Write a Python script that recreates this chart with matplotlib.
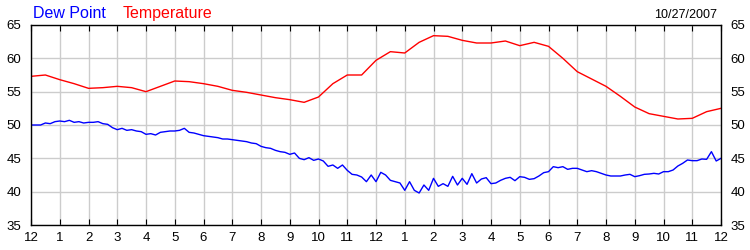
import numpy as np
import matplotlib
matplotlib.use("Agg")
import matplotlib.pyplot as plt

plt.rcParams['font.family'] = ['Liberation Sans', 'DejaVu Sans']

# temperatura cada 30 min (hora 0 = medianoche)
temp_hours = np.arange(0, 24.01, 0.5)
temperature = [57.3, 57.5, 56.8, 56.2, 55.5, 55.6, 55.8, 55.6, 55.0, 55.8,
               56.6, 56.5, 56.2, 55.8, 55.2, 54.9, 54.5, 54.1, 53.8, 53.4,
               54.2, 56.2, 57.5, 57.5, 59.7, 61.0, 60.8, 62.4, 63.4, 63.3,
               62.7, 62.3, 62.3, 62.6, 61.9, 62.4, 61.8, 60.0, 58.0, 56.9,
               55.8, 54.3, 52.7, 51.7, 51.3, 50.9, 51.0, 52.0, 52.5]

# punto de rocio cada 10 min
dew_hours = np.arange(145) / 6.0
dew_point = [50.0, 50.0, 50.0, 50.3, 50.2, 50.5,
             50.6, 50.5, 50.7, 50.4, 50.5, 50.3,
             50.4, 50.4, 50.5, 50.2, 50.1, 49.6,
             49.3, 49.5, 49.2, 49.3, 49.1, 49.0,
             48.6, 48.7, 48.5, 48.9, 49.0, 49.1,
             49.1, 49.2, 49.5, 48.9, 48.8, 48.6,
             48.4, 48.3, 48.2, 48.1, 47.9, 47.9,
             47.8, 47.7, 47.6, 47.5, 47.3, 47.2,
             46.8, 46.6, 46.5, 46.2, 46.0, 45.9,
             45.6, 45.8, 45.0, 44.8, 45.1, 44.7,
             44.9, 44.6, 43.8, 44.0, 43.5, 44.0,
             43.2, 42.6, 42.5, 42.2, 41.5, 42.5,
             41.5, 42.9, 42.5, 41.7, 41.5, 41.3,
             40.2, 41.5, 40.2, 39.8, 41.0, 40.2,
             42.0, 40.8, 41.2, 40.8, 42.3, 41.0,
             42.0, 41.1, 42.7, 41.3, 41.9, 42.1,
             41.2, 41.3, 41.7, 42.0, 42.15, 41.65,
             42.25, 42.15, 41.85, 41.95, 42.35, 42.85,
             43.0, 43.75, 43.6, 43.75, 43.35, 43.5,
             43.5, 43.25, 43.0, 43.15, 43.0, 42.75,
             42.5, 42.35, 42.35, 42.35, 42.5, 42.6,
             42.25, 42.4, 42.6, 42.65, 42.75, 42.65,
             43.0, 43.0, 43.25, 43.85, 44.25, 44.75,
             44.65, 44.65, 44.9, 44.85, 46.0, 44.6,
             45.0]

hour_labels = ['12'] + [str(i) for i in range(1, 12)] + ['12'] + [str(i) for i in range(1, 12)] + ['12']
y_ticks = [35, 40, 45, 50, 55, 60, 65]

fig = plt.figure(figsize=(7.5, 2.5), dpi=100)
ax = fig.add_axes([31 / 750, 0.1, 690 / 750, 0.8])

ax.plot(temp_hours, temperature, color='#ff0000', lw=1)
ax.plot(dew_hours, dew_point, color='#0000ff', lw=1)

ax.set_xlim(0, 24)
ax.set_ylim(35, 65)
ax.set_xticks(range(25))
ax.set_xticklabels(hour_labels)
ax.set_yticks(y_ticks)
ax.grid(True, color='#cccccc', lw=1)
ax.set_axisbelow(True)

ax.tick_params(axis='x', direction='in', top=True, bottom=True, length=4,
               labelsize=9.5, pad=5)
ax.tick_params(axis='y', length=0, labelsize=9.5, left=True, right=True,
               labelleft=True, labelright=True, pad=7)
for s in ax.spines.values():
    s.set_color('black')
    s.set_linewidth(1)

fig.text(33 / 750, 1 - 18 / 250, 'Dew Point', color='#0000ff', fontsize=11.5)
fig.text(123 / 750, 1 - 18 / 250, 'Temperature', color='#ff0000', fontsize=11.5)
fig.text(717 / 750, 1 - 18 / 250, '10/27/2007', color='black', fontsize=9, ha='right')

fig.savefig('out.png', dpi=100)
